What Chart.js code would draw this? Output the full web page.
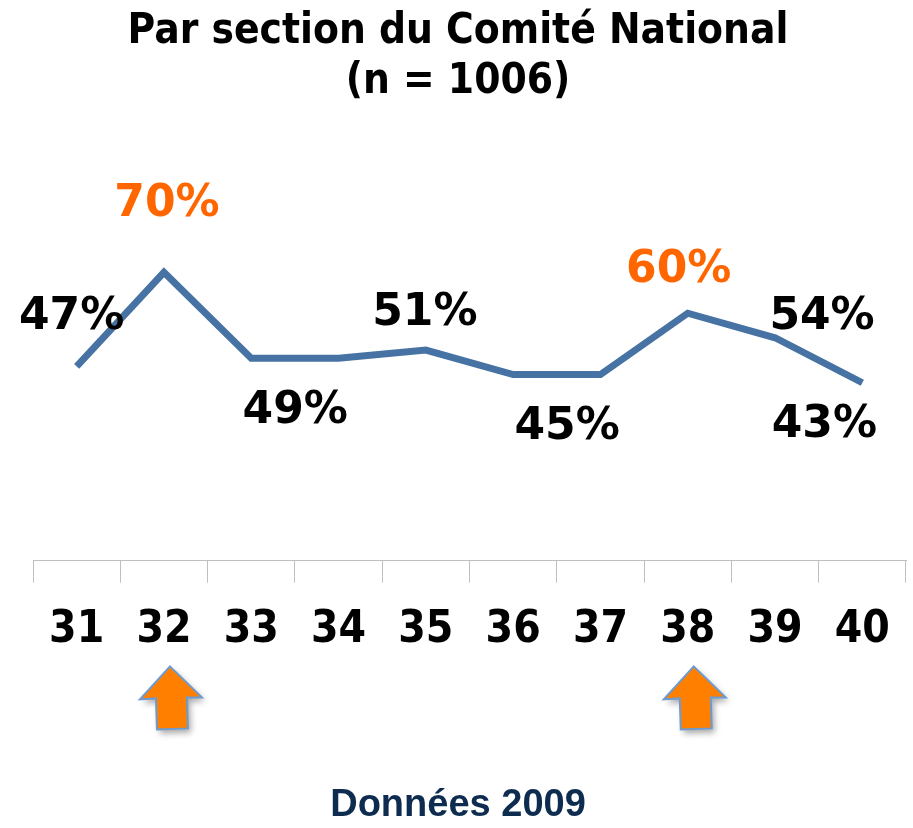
<!DOCTYPE html>
<html>
<head>
<meta charset="utf-8">
<script src="https://cdn.jsdelivr.net/npm/chart.js@4/dist/chart.umd.min.js"></script>
<style>
  html, body { margin: 0; padding: 0; background: #ffffff; }
  #wrap { width: 913px; height: 828px; position: relative; }
</style>
</head>
<body>
<div id="wrap"><canvas id="c"></canvas></div>
<script>
// ---- data ----
const categories = ['31', '32', '33', '34', '35', '36', '37', '38', '39', '40'];
const values = [47, 70, 49, 49, 51, 45, 45, 60, 54, 43];
const labelShown = [true, true, true, false, true, true, false, true, true, true];
const highlighted = ['32', '38'];
const titleLines = ['Par section du Comité National', '(n = 1006)'];
const footerText = 'Données 2009';

// ---- styling (not data) ----
const labelOffsets = {
  0: [-5, -53], 1: [3, -72], 2: [44, 49], 4: [-1, -41],
  5: [54, 48], 7: [-9, -47], 8: [47, -25], 9: [-38, 38]
};

const valueLabels = {
  id: 'valueLabels',
  afterDatasetsDraw(chart) {
    const ctx = chart.ctx;
    const meta = chart.getDatasetMeta(0);
    ctx.save();
    ctx.font = 'bold 44px "DejaVu Sans"';
    ctx.textAlign = 'center';
    ctx.textBaseline = 'alphabetic';
    meta.data.forEach((pt, i) => {
      if (!labelShown[i]) return;
      const off = labelOffsets[i] || [0, -40];
      ctx.fillStyle = highlighted.includes(categories[i]) ? '#ff6600' : '#000000';
      ctx.fillText(values[i] + '%', pt.x + off[0], pt.y + off[1] + 16);
    });
    ctx.restore();
  }
};

const arrows = {
  id: 'arrows',
  afterDraw(chart) {
    const ctx = chart.ctx;
    const xs = chart.scales.x;
    const top = xs.bottom - 13;
    highlighted.forEach(cat => {
      const idx = categories.indexOf(cat);
      const cx = xs.getPixelForValue(idx) + 6;
      ctx.save();
      ctx.beginPath();
      ctx.moveTo(cx, top);
      ctx.lineTo(cx + 32, top + 31);
      ctx.lineTo(cx + 17, top + 31);
      ctx.lineTo(cx + 18, top + 62);
      ctx.lineTo(cx - 13, top + 63);
      ctx.lineTo(cx - 14, top + 32);
      ctx.lineTo(cx - 30, top + 33);
      ctx.closePath();
      ctx.shadowColor = 'rgba(0,0,0,0.35)';
      ctx.shadowBlur = 6;
      ctx.shadowOffsetX = 3;
      ctx.shadowOffsetY = 4;
      ctx.fillStyle = '#ff8000';
      ctx.fill();
      ctx.shadowColor = 'transparent';
      ctx.lineWidth = 2;
      ctx.strokeStyle = '#6b9bd2';
      ctx.stroke();
      ctx.restore();
    });
  }
};

new Chart(document.getElementById('c'), {
  type: 'line',
  data: {
    labels: categories,
    datasets: [{
      data: values,
      borderColor: '#4673a3',
      borderWidth: 7,
      pointRadius: 0,
      pointHoverRadius: 0,
      tension: 0,
      fill: false,
      borderJoinStyle: 'miter',
      borderCapStyle: 'butt'
    }]
  },
  options: {
    responsive: true,
    maintainAspectRatio: false,
    animation: false,
    events: [],
    layout: { padding: { left: 10, right: 7, top: 0, bottom: 0 } },
    plugins: {
      legend: { display: false },
      tooltip: { enabled: false },
      title: {
        display: true,
        text: titleLines,
        color: '#000000',
        font: { family: '"DejaVu Sans Condensed", "DejaVu Sans"', weight: 'bold', size: 42, lineHeight: 1.17 },
        padding: { top: 8, bottom: 25 }
      },
      subtitle: {
        display: true,
        position: 'bottom',
        text: footerText,
        color: '#0d2c4f',
        font: { family: '"Liberation Sans", Arial', weight: 'bold', size: 38, lineHeight: 1.2 },
        padding: { top: 103, bottom: 0 }
      }
    },
    scales: {
      x: {
        type: 'category',
        offset: true,
        grid: {
          display: true,
          offset: true,
          drawOnChartArea: false,
          drawTicks: true,
          tickLength: 22,
          color: '#bfbfbf'
        },
        border: { display: true, color: '#bfbfbf', width: 1 },
        ticks: {
          color: '#000000',
          padding: 22,
          maxRotation: 0,
          autoSkip: false,
          font: { family: '"DejaVu Sans Condensed", "DejaVu Sans"', weight: 'bold', size: 44, lineHeight: 1.2 }
        }
      },
      y: {
        display: true,
        min: -0.5,
        max: 104.5,
        ticks: { display: false },
        grid: { display: false },
        border: { display: false },
        afterFit(scale) { scale.width = 23; }
      }
    }
  },
  plugins: [valueLabels, arrows]
});
</script>
</body>
</html>
